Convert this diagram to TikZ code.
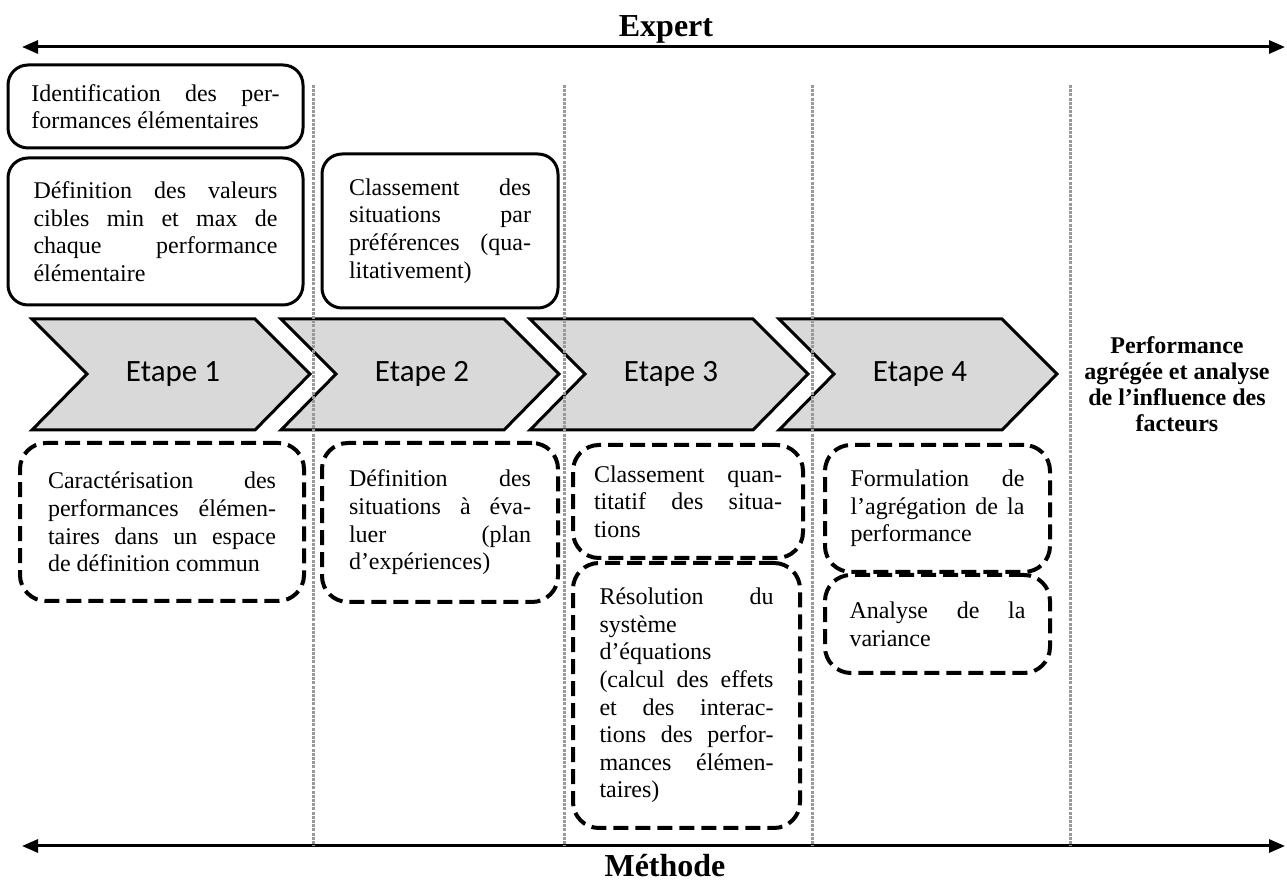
\documentclass[tikz,border=0pt]{standalone}
\usepackage{fontspec}
\setmainfont{Liberation Serif}
\newfontfamily\calibri{Carlito}
\usetikzlibrary{arrows.meta}

\definecolor{chevgray}{HTML}{D9D9D9}
\definecolor{sepgray}{HTML}{999999}
\newcommand{\bodyfont}{\fontsize{12pt}{13.8pt}\selectfont\hyphenpenalty=10000\tolerance=10000}

\tikzset{
  solidbox/.style={draw, line width=1.5pt, rounded corners=10pt, align=justify, inner sep=0pt, font=\bodyfont},
  dashbox/.style={draw, line width=2pt, dash pattern=on 7.5pt off 3.5pt, rounded corners=13pt, align=justify, inner sep=0pt, font=\bodyfont},
  chevron/.style={draw, line width=1.5pt, fill=chevgray},
  sepline/.style={draw=sepgray, line width=1.5pt, dash pattern=on 1.5pt off 0.6pt},
  axis/.style={line width=1.5pt, {Triangle[length=8pt,width=6.5pt]}-{Triangle[length=8pt,width=6.5pt]}},
}

\begin{document}
\begin{tikzpicture}[x=0.5pt, y=-0.5pt]
\useasboundingbox (0,0) rectangle (1287,881);

% axes
\node[font=\bfseries\fontsize{16pt}{18pt}\selectfont, anchor=base] (expert) at (666,37) {Expert};
\coordinate (tl) at (22,47);
\coordinate (tr) at (1285,47);
\draw[axis] (tl) -- (tr);

\node[font=\bfseries\fontsize{16pt}{18pt}\selectfont, anchor=base] (methode) at (665,877) {Méthode};
\coordinate (bl) at (22,846);
\coordinate (br) at (1285,846);
\draw[axis] (bl) -- (br);

% steps
\foreach \i/\x in {1/32,2/281,3/530,4/779} {
  \draw[chevron] (\x,319) -- ++(223,0) -- ++(55,55) -- ++(-55,56) -- ++(-223,0) -- ++(55,-56) -- cycle;
  \node[font=\calibri\fontsize{15.5pt}{18pt}\selectfont] (etape\i) at (\x+141,374) {Etape \i};
}

% separators
\foreach \x in {313,564,812,1070}
  \draw[sepline] (\x,85) -- (\x,846);

% expert tasks
\node[solidbox, minimum width=147.5pt, minimum height=41.5pt, text width=124pt] (ident) at (155.5,106.5)
  {Identification des per-\linebreak formances élémentaires};
\node[solidbox, minimum width=147.5pt, minimum height=73.5pt, text width=122pt] (valcib) at (155.5,231.5)
  {Définition des valeurs\linebreak cibles min et max de\linebreak chaque performance\linebreak élémentaire};
\node[solidbox, minimum width=118pt, minimum height=77pt, text width=91pt] (classqual) at (440,231)
  {Classement des\linebreak situations par\linebreak préférences (qua-\linebreak litativement)};

% method tasks
\node[dashbox, minimum width=142pt, minimum height=79pt, text width=114pt] (caract) at (162,522)
  {Caractérisation des\linebreak performances élémen-\linebreak taires dans un espace\linebreak de définition commun};
\node[dashbox, minimum width=118pt, minimum height=79.5pt, text width=91pt] (defsit) at (440,522.5)
  {Définition des\linebreak situations à éva-\linebreak luer (plan\linebreak d’expériences)};
\node[dashbox, minimum width=115pt, minimum height=56.5pt, text width=94pt] (classquant) at (688,501.5)
  {Classement quan-\linebreak titatif des situa-\linebreak tions};
\node[dashbox, minimum width=113.5pt, minimum height=132.5pt, text width=87pt] (resol) at (686.5,695.5)
  {Résolution du\linebreak système\\ d’équations\\ (calcul des effets\linebreak et des interac-\linebreak tions des perfor-\linebreak mances élémen-\linebreak taires)};
\node[dashbox, minimum width=112.5pt, minimum height=63.5pt, text width=87pt] (formul) at (937.5,508.5)
  {Formulation de\linebreak l’agrégation de la\linebreak performance};
\node[dashbox, minimum width=112.5pt, minimum height=49pt, text width=88pt] (anova) at (937.5,624)
  {Analyse de la\linebreak variance};

% result
\node[font=\bfseries\fontsize{12pt}{13pt}\selectfont, align=center] (result) at (1177,384)
  {Performance\\ agrégée et analyse\\ de l’influence des\\ facteurs};

\end{tikzpicture}
\end{document}
